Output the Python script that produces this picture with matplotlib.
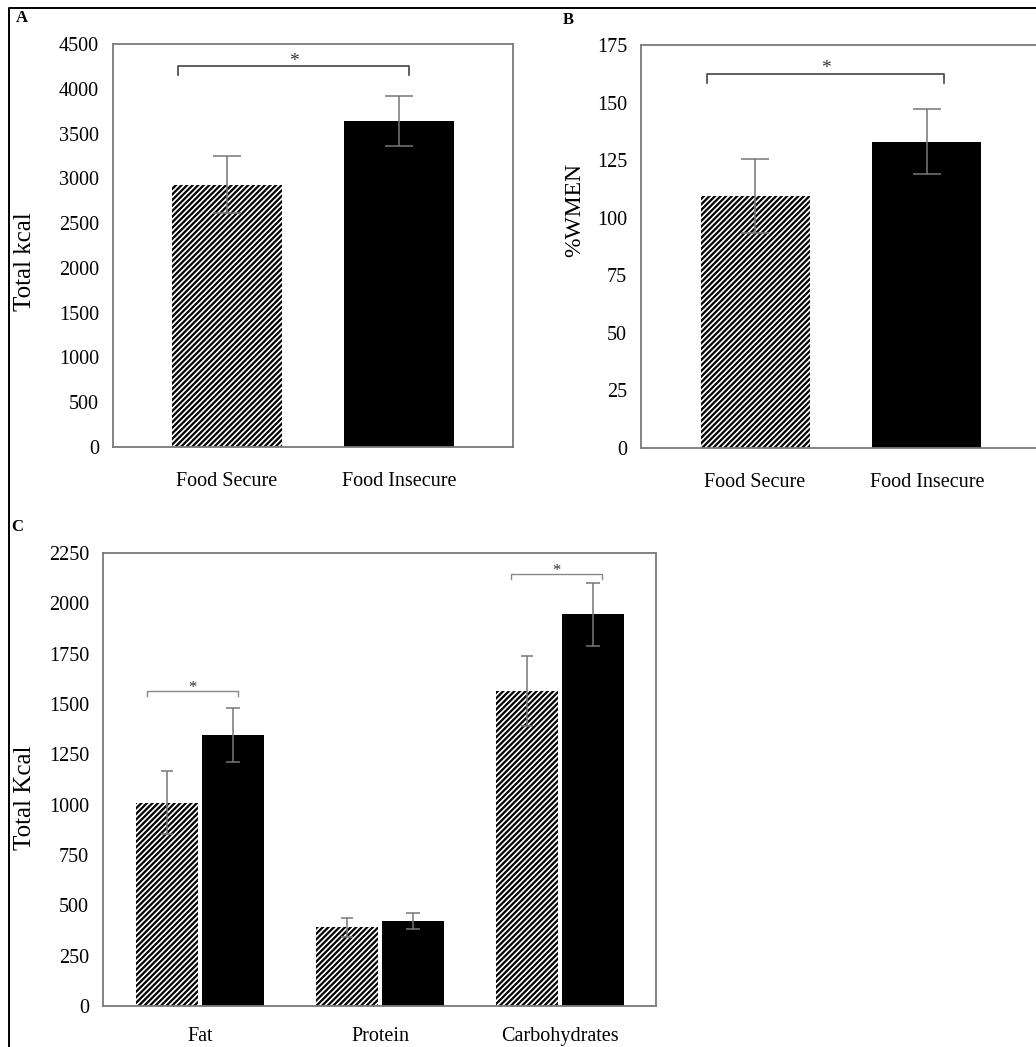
import matplotlib
matplotlib.use("Agg")
import matplotlib.pyplot as plt
from matplotlib.lines import Line2D

plt.rcParams['font.family'] = ['Liberation Serif', 'DejaVu Serif']
plt.rcParams['hatch.linewidth'] = 1.6

# ---------------- data ----------------
groups_ab = ["Food Secure", "Food Insecure"]
kcal_mean = [2930, 3640]
kcal_err = [315, 280]
wmen_mean = [109.5, 133]
wmen_err = [16, 14]

macros = ["Fat", "Protein", "Carbohydrates"]
secure_macro = [1010, 390, 1565]
secure_macro_err = [155, 45, 175]
insecure_macro = [1346, 420, 1945]
insecure_macro_err = [134, 40, 155]

yticks_a = list(range(0, 4501, 500))
yticks_b = list(range(0, 176, 25))
yticks_c = list(range(0, 2251, 250))

W, H = 1036, 1047
fig = plt.figure(figsize=(W / 100, H / 100), dpi=100)


def rect(l, t, r, b):
    return [l / W, 1 - b / H, (r - l) / W, (b - t) / H]


SPINE = "#7a7a7a"
ERR = "#777777"
FS = 14.5


def style(ax, yticks, ylim, xpad):
    ax.set_ylim(*ylim)
    ax.set_yticks(yticks)
    ax.set_yticklabels([str(v) for v in yticks], fontsize=FS)
    for s in ax.spines.values():
        s.set_color(SPINE)
        s.set_linewidth(1.3)
    ax.tick_params(axis='both', length=0)
    ax.tick_params(axis='y', pad=10)
    ax.tick_params(axis='x', pad=xpad, labelsize=FS)


def bracket(ax, x0, x1, y0, y1, color, lw, star_size, star_off):
    ax.plot([x0, x0, x1, x1], [y0, y1, y1, y0], color=color, lw=lw, clip_on=False)
    ax.text((x0 + x1) / 2, y1 + star_off, "*", ha='center', va='bottom',
            fontsize=star_size, color="#333333")


# ---------------- panel A ----------------
axA = fig.add_axes(rect(113, 44, 513, 447))
xa = [0, 1]
axA.bar(xa[0], kcal_mean[0], width=0.64, color='white', edgecolor='black',
        hatch='//////', linewidth=0)
axA.bar(xa[1], kcal_mean[1], width=0.64, color='black', linewidth=0)
axA.errorbar(xa, kcal_mean, yerr=kcal_err, fmt='none', ecolor=ERR,
             elinewidth=1.1, capsize=10, capthick=1.1)
axA.set_xlim(-0.663, 1.663)
axA.set_xticks(xa)
axA.set_xticklabels(groups_ab)
style(axA, yticks_a, (0, 4500), 18)
bracket(axA, -0.285, 1.058, 4150, 4250, "#444444", 1.2, 14, -40)

# ---------------- panel B ----------------
axB = fig.add_axes(rect(641, 45, 1041, 448))
axB.bar(xa[0], wmen_mean[0], width=0.634, color='white', edgecolor='black',
        hatch='//////', linewidth=0)
axB.bar(xa[1], wmen_mean[1], width=0.634, color='black', linewidth=0)
axB.errorbar(xa, wmen_mean, yerr=wmen_err, fmt='none', ecolor=ERR,
             elinewidth=1.1, capsize=10, capthick=1.1)
axB.set_xlim(-0.663, 1.663)
axB.set_xticks(xa)
axB.set_xticklabels(groups_ab)
style(axB, yticks_b, (0, 175), 18)
bracket(axB, -0.279, 1.099, 158.5, 162.5, "#444444", 1.2, 14, -1.5)

# ---------------- panel C ----------------
axC = fig.add_axes(rect(103, 553, 656, 1006))
xc = list(range(len(macros)))
off = 0.183
bw = 0.344
xs = [x - off for x in xc]
xi = [x + off for x in xc]
axC.bar(xs, secure_macro, width=bw, color='white', edgecolor='black',
        hatch='//////', linewidth=0)
axC.bar(xi, insecure_macro, width=bw, color='black', linewidth=0)
axC.errorbar(xs, secure_macro, yerr=secure_macro_err, fmt='none', ecolor=ERR,
             elinewidth=1.1, capsize=4.5, capthick=1.1)
axC.errorbar(xi, insecure_macro, yerr=insecure_macro_err, fmt='none', ecolor=ERR,
             elinewidth=1.1, capsize=4.8, capthick=1.1)
axC.set_xlim(-0.539, 2.533)
axC.set_xticks(xc)
axC.set_xticklabels(macros)
style(axC, yticks_c, (0, 2250), 15)
bracket(axC, -0.295, 0.211, 1540, 1565, "#888888", 1.0, 12, -25)
bracket(axC, 1.728, 2.233, 2121, 2146, "#888888", 1.0, 12, -25)

# ---------------- labels ----------------
fig.text(25 / W, 1 - 262 / H, "Total kcal", rotation=90, ha='center', va='center', fontsize=18)
fig.text(575 / W, 1 - 210 / H, "%WMEN", rotation=90, ha='center', va='center', fontsize=17)
fig.text(25 / W, 1 - 798 / H, "Total Kcal", rotation=90, ha='center', va='center', fontsize=18)

fig.text(22 / W, 1 - 18 / H, "A", ha='center', va='center', fontsize=12, fontweight='bold')
fig.text(568 / W, 1 - 20 / H, "B", ha='center', va='center', fontsize=12, fontweight='bold')
fig.text(17 / W, 1 - 527 / H, "C", ha='center', va='center', fontsize=12, fontweight='bold')

# outer frame lines (top and left)
fig.add_artist(Line2D([9 / W, 9 / W, 1.0], [0.0, 1 - 8 / H, 1 - 8 / H],
                      transform=fig.transFigure, color='black', lw=1.4))

fig.savefig("out.png", dpi=100)
